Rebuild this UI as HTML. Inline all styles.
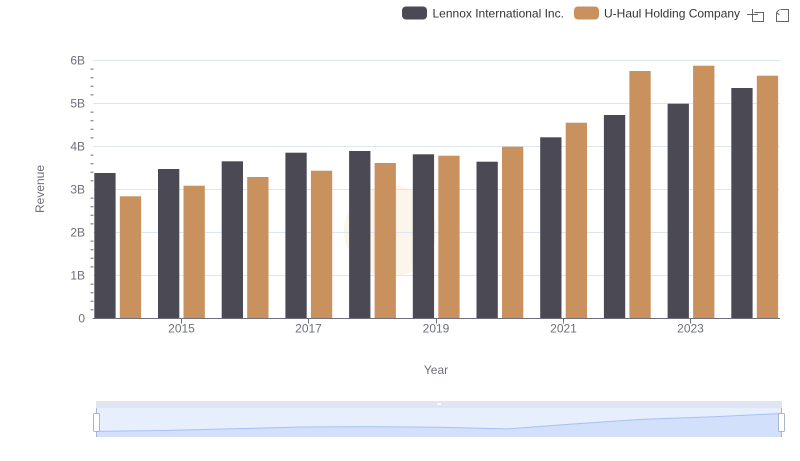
<!DOCTYPE html>
<html><head><meta charset="utf-8"><style>
html,body{margin:0;padding:0;background:#fff;}
svg{display:block;font-family:"Liberation Sans",sans-serif;}
</style></head><body>
<svg width="800" height="461" viewBox="0 0 800 461" xmlns="http://www.w3.org/2000/svg">
<!-- legend -->
<rect x="402" y="6.5" width="25" height="13" rx="4" fill="#4a4954"/>
<text x="432.5" y="17.5" font-size="12" fill="#333">Lennox International Inc.</text>
<rect x="574" y="6.5" width="25" height="13" rx="4" fill="#c8915e"/>
<text x="604" y="17.5" font-size="12" fill="#333">U-Haul Holding Company</text>
<!-- toolbox icons -->
<g stroke="#666" stroke-width="1" fill="none">
<path d="M752.5 10.5 V21.5 H763.5 V12.5 H754.5"/>
<path d="M747 14.5 H758 M752.5 9 V14"/>
<path d="M776.5 12.5 V21.5 H788.5 V9.5 H780.5"/>
<path d="M776.5 12.5 L779.5 9.5 M776.5 12.5 L779.5 15"/>
</g>
<!-- watermark -->
<circle cx="390" cy="231" r="46" fill="#fbf1e3" opacity="0.7"/>
<!-- grid -->
<g stroke="#e0e6f1" stroke-width="1">
<line x1="93" y1="60.5" x2="780" y2="60.5"/>
<line x1="93" y1="103.5" x2="780" y2="103.5"/>
<line x1="93" y1="146.5" x2="780" y2="146.5"/>
<line x1="93" y1="189.5" x2="780" y2="189.5"/>
<line x1="93" y1="232.5" x2="780" y2="232.5"/>
<line x1="93" y1="275.5" x2="780" y2="275.5"/>
</g>
<!-- minor ticks -->
<g stroke="#6e7079" stroke-width="1" id="mt"></g>
<g stroke="#6e7079" stroke-width="1">
<path d="M90.5 69.1H93.5M90.5 77.7H93.5M90.5 86.3H93.5M90.5 94.9H93.5
M90.5 112.1H93.5M90.5 120.7H93.5M90.5 129.3H93.5M90.5 137.9H93.5
M90.5 155.1H93.5M90.5 163.7H93.5M90.5 172.3H93.5M90.5 180.9H93.5
M90.5 198.1H93.5M90.5 206.7H93.5M90.5 215.3H93.5M90.5 223.9H93.5
M90.5 241.1H93.5M90.5 249.7H93.5M90.5 258.3H93.5M90.5 266.9H93.5
M90.5 284.1H93.5M90.5 292.7H93.5M90.5 301.3H93.5M90.5 309.9H93.5"/>
</g>
<!-- y labels -->
<g font-size="12" fill="#6e7079" text-anchor="end">
<text x="85" y="64.5">6B</text>
<text x="85" y="107.5">5B</text>
<text x="85" y="150.5">4B</text>
<text x="85" y="193.5">3B</text>
<text x="85" y="236.5">2B</text>
<text x="85" y="279.5">1B</text>
<text x="85" y="322.5">0</text>
</g>
<text transform="translate(44,189) rotate(-90)" font-size="12" fill="#6e7079" text-anchor="middle">Revenue</text>
<!-- bars -->
<g fill="#4a4954">
<rect x="94.3" y="173" width="21.3" height="145"/>
<rect x="158" y="169" width="21.3" height="149"/>
<rect x="221.7" y="161.3" width="21.3" height="156.7"/>
<rect x="285.4" y="152.7" width="21.3" height="165.3"/>
<rect x="349.1" y="151" width="21.3" height="167"/>
<rect x="412.8" y="154.3" width="21.3" height="163.7"/>
<rect x="476.5" y="161.7" width="21.3" height="156.3"/>
<rect x="540.2" y="137.3" width="21.3" height="180.7"/>
<rect x="603.9" y="115" width="21.3" height="203"/>
<rect x="667.6" y="103.7" width="21.3" height="214.3"/>
<rect x="731.3" y="88" width="21.3" height="230"/>
</g>
<g fill="#c8915e">
<rect x="119.8" y="196.3" width="21.3" height="121.7"/>
<rect x="183.5" y="185.7" width="21.3" height="132.3"/>
<rect x="247.2" y="177" width="21.3" height="141"/>
<rect x="310.9" y="170.7" width="21.3" height="147.3"/>
<rect x="374.6" y="163" width="21.3" height="155"/>
<rect x="438.3" y="155.7" width="21.3" height="162.3"/>
<rect x="502" y="146.7" width="21.3" height="171.3"/>
<rect x="565.7" y="122.7" width="21.3" height="195.3"/>
<rect x="629.4" y="71" width="21.3" height="247"/>
<rect x="693.1" y="65.7" width="21.3" height="252.3"/>
<rect x="756.8" y="75.7" width="21.3" height="242.3"/>
</g>
<!-- x axis -->
<line x1="92.5" y1="318.5" x2="780" y2="318.5" stroke="#6e7079" stroke-width="1"/>
<g stroke="#6e7079" stroke-width="1">
<line x1="181.5" y1="318.5" x2="181.5" y2="323.5"/>
<line x1="308.5" y1="318.5" x2="308.5" y2="323.5"/>
<line x1="436.5" y1="318.5" x2="436.5" y2="323.5"/>
<line x1="563.5" y1="318.5" x2="563.5" y2="323.5"/>
<line x1="690.5" y1="318.5" x2="690.5" y2="323.5"/>
</g>
<g font-size="12" fill="#6e7079" text-anchor="middle">
<text x="181.5" y="332.5">2015</text>
<text x="308.5" y="332.5">2017</text>
<text x="436" y="332.5">2019</text>
<text x="563.5" y="332.5">2021</text>
<text x="690.5" y="332.5">2023</text>
</g>
<text x="436" y="374" font-size="12" fill="#6e7079" text-anchor="middle">Year</text>
<!-- data zoom -->
<rect x="96" y="401" width="686" height="7" fill="#dfe5f2"/>
<rect x="96" y="408" width="686" height="29" fill="#e7eefc"/>
<rect x="437" y="403" width="4" height="2" fill="#fff" opacity="0.8"/>
<path d="M96 431.4 L164.6 430.5 L233.2 428.8 L301.8 427.0 L370.4 426.6 L439 427.3 L507.6 428.9 L576.2 423.8 L644.8 419.2 L713.4 416.8 L782 413.5 L782 437 L96 437 Z" fill="#d3e0fb"/>
<path d="M96 431.4 L164.6 430.5 L233.2 428.8 L301.8 427.0 L370.4 426.6 L439 427.3 L507.6 428.9 L576.2 423.8 L644.8 419.2 L713.4 416.8 L782 413.5" fill="none" stroke="#a9c1f2" stroke-width="1"/>
<line x1="96.5" y1="408" x2="96.5" y2="437" stroke="#a7b7cc"/>
<line x1="781.5" y1="408" x2="781.5" y2="437" stroke="#a7b7cc"/>
<rect x="93.5" y="413.5" width="6" height="18" rx="1" fill="#fff" stroke="#a7b7cc"/>
<rect x="778.5" y="413.5" width="6" height="18" rx="1" fill="#fff" stroke="#a7b7cc"/>
</svg>
</body></html>
